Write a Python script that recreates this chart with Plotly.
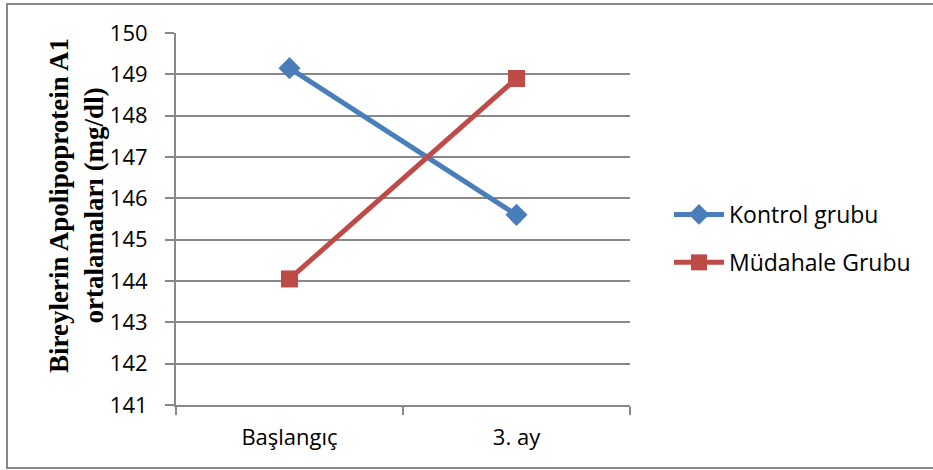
import plotly.graph_objects as go

# Measurement points and group means (mg/dl)
categories = ["Başlangıç", "3. ay"]
kontrol_grubu = [149.15, 145.6]
mudahale_grubu = [144.05, 148.9]
y_ticks = [141, 142, 143, 144, 145, 146, 147, 148, 149, 150]

W, H = 933, 470
L, R, T, B = 176, 630, 33, 405  # plot-area edges in pixels


def px_x(x):
    return (x - L) / (R - L)


def px_y(y):
    return (B - y) / (B - T)


fig = go.Figure()
fig.add_trace(go.Scatter(
    x=categories, y=kontrol_grubu, name="Kontrol grubu",
    mode="lines+markers", legendgroup="k",
    line=dict(color="#4a7ebb", width=5),
    marker=dict(symbol="diamond", size=17, color="#4a7ebb"),
))
fig.add_trace(go.Scatter(
    x=categories, y=mudahale_grubu, name="Müdahale Grubu",
    mode="lines+markers", legendgroup="m",
    line=dict(color="#be4b48", width=5),
    marker=dict(symbol="square", size=17, color="#be4b48"),
))

tick_font = dict(family="Open Sans, sans-serif", size=22, color="#000000")

fig.update_layout(
    width=W, height=H,
    margin=dict(l=L, r=W - R, t=T, b=H - B),
    paper_bgcolor="white", plot_bgcolor="white",
    showlegend=True,
    legend=dict(
        x=px_x(669), y=px_y(193), xanchor="left", yanchor="top",
        font=dict(family="Open Sans, sans-serif", size=23, color="#000000"),
        bgcolor="rgba(0,0,0,0)", tracegroupgap=15, itemwidth=50,
    ),
    xaxis=dict(
        type="category", range=[-0.5, 1.5], tickson="boundaries",
        ticks="outside", ticklen=8, tickwidth=2, tickcolor="#888888",
        showline=True, linecolor="#888888", linewidth=2,
        showgrid=False, tickfont=tick_font, fixedrange=True,
        ticklabelstandoff=12,
    ),
    yaxis=dict(
        range=[141, 150], tickvals=y_ticks,
        ticks="outside", ticklen=9, tickwidth=2, tickcolor="#888888",
        showline=True, linecolor="#888888", linewidth=2,
        showgrid=True, gridcolor="#888888", gridwidth=2,
        zeroline=False, tickfont=tick_font, ticklabelstandoff=13,
    ),
    annotations=[dict(
        text="<b>Bireylerin Apolipoprotein A1<br>ortalamaları (mg/dl)</b>",
        xref="paper", yref="paper", x=px_x(76), y=px_y(206),
        xanchor="center", yanchor="middle", textangle=-90, showarrow=False,
        font=dict(family="Liberation Serif, Times New Roman, serif", size=27, color="#000000"),
    )],
    shapes=[dict(
        type="rect", xref="paper", yref="paper",
        x0=px_x(7), x1=px_x(940), y0=px_y(468), y1=px_y(4),
        line=dict(color="#888888", width=2), fillcolor="rgba(0,0,0,0)", layer="below",
    )],
)

fig.write_html("out.html")
